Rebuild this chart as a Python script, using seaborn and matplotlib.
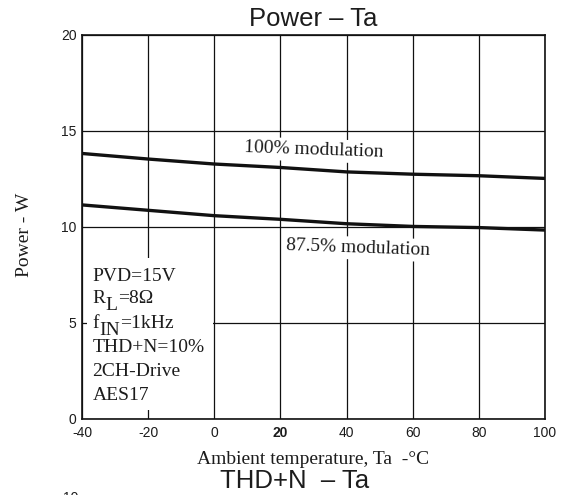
import numpy as np
import pandas as pd
import matplotlib
matplotlib.use("Agg")
import matplotlib.pyplot as plt
from matplotlib.patches import Rectangle
import seaborn as sns

# ---- data ----
temps = [-40, -20, 0, 20, 40, 60, 80, 100]
power_100 = [13.83, 13.54, 13.28, 13.10, 12.87, 12.75, 12.67, 12.53]
power_875 = [11.15, 10.87, 10.59, 10.40, 10.17, 10.03, 9.97, 9.84]
series_names = ["100% modulation", "87.5% modulation"]
x_ticks = [-40, -20, 0, 20, 40, 60, 80, 100]
y_ticks = [0, 5, 10, 15, 20]
# each condition line: (main text, subscript, rest)
conditions = [("PVD=15V", "", ""), ("R", "L", "=8Ω"), ("f", "IN", "=1kHz"),
              ("THD+N=10%", "", ""), ("2CH-Drive", "", ""), ("AES17", "", "")]
title = "Power – Ta"
next_title = "THD+N  – Ta"
x_label = "Ambient temperature, Ta  -°C"
y_label = "Power - W"

df = pd.DataFrame({
    "Ta": temps * 2,
    "Power": power_100 + power_875,
    "series": [series_names[0]] * len(temps) + [series_names[1]] * len(temps),
})

sns.set_theme(style="white")
plt.rcParams["font.family"] = ["Liberation Sans", "DejaVu Sans"]

SERIF = ["Liberation Serif", "DejaVu Serif"]
TXT = "#1c1c1c"

fig = plt.figure(figsize=(5.62, 4.95), dpi=100)
ax = fig.add_axes([82 / 562, 76 / 495, 463 / 562, 384 / 495])

sns.lineplot(data=df, x="Ta", y="Power", hue="series",
             palette=["#111111", "#111111"], linewidth=2.4,
             legend=False, ax=ax, zorder=4)

ax.set_xlim(-40, 100)
ax.set_ylim(0, 20)
ax.set_xticks(x_ticks)
ax.set_yticks(y_ticks)
ax.set_xticklabels([str(v) for v in x_ticks])
ax.set_yticklabels([str(v) for v in y_ticks])
ax.set_axisbelow(True)
ax.grid(True, color="#111111", linewidth=0.9)
for s in ax.spines.values():
    s.set_color("#111111")
    s.set_linewidth(1.2)
ax.tick_params(axis="both", length=0, labelsize=10, colors=TXT)
ax.tick_params(axis="x", pad=5)
ax.tick_params(axis="y", pad=4)
for lab in ax.get_xticklabels():
    if lab.get_text() == "20":
        lab.set_fontweight("bold")

ax.set_title(title, fontsize=18.5, color=TXT, pad=6.5)
ax.set_xlabel(x_label, fontsize=14, family=SERIF, color=TXT, labelpad=8)
ax.set_ylabel(y_label, fontsize=14, family=SERIF, color=TXT)
ax.yaxis.set_label_coords(-0.106, 0.48)

# white panel behind the condition block
ax.add_patch(Rectangle((-38.5, 0.45), 38.2, 7.95, facecolor="white",
                       edgecolor="none", zorder=1.5))
line_y = [7.2, 6.05, 4.75, 3.5, 2.25, 1.0]
for (main, sub, rest), yy in zip(conditions, line_y):
    t = ax.text(-36.8, yy, main, fontsize=14, family=SERIF, color=TXT,
                va="baseline", ha="left", zorder=5)
    if sub:
        ts = ax.annotate(sub, xy=(1, 0), xycoords=t, xytext=(0, -5),
                         textcoords="offset points", fontsize=14,
                         family=SERIF, color=TXT, va="bottom", ha="left",
                         zorder=5)
        ax.annotate(rest, xy=(1, 0), xycoords=ts, xytext=(0, 5),
                    textcoords="offset points", fontsize=14,
                    family=SERIF, color=TXT, va="bottom", ha="left",
                    zorder=5)

# curve labels
box = dict(boxstyle="square,pad=0.15", facecolor="white", edgecolor="none")
ax.text(30, 14.0, series_names[0], fontsize=14, family=SERIF, color=TXT,
        ha="center", va="center", rotation=-2, bbox=box, zorder=3)
ax.text(43.5, 8.9, series_names[1], fontsize=14, family=SERIF, color=TXT,
        ha="center", va="center", rotation=-2, bbox=box, zorder=3)

# start of the next chart (cut off by the page)
fig.text(220 / 562, 7 / 495, next_title, fontsize=18.5, color=TXT,
         ha="left", va="baseline")
fig.text(63 / 562, 3.5 / 495, "10", fontsize=10, color=TXT,
         ha="left", va="top")

fig.savefig("out.png", dpi=100)
